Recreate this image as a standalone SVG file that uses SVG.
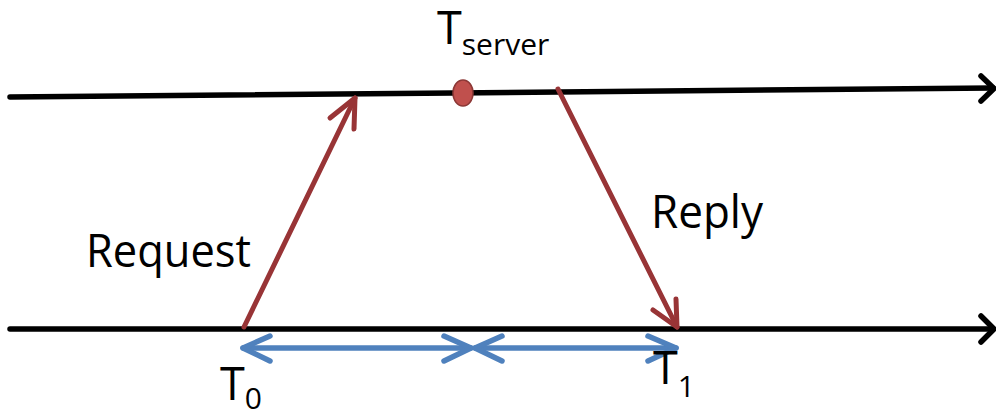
<svg xmlns="http://www.w3.org/2000/svg" width="996" height="414" viewBox="0 0 996 414">
<style>
.axis{stroke:#000;stroke-width:5.5;fill:none;stroke-linecap:round;stroke-linejoin:round}
.msg{stroke:#983436;stroke-width:5;fill:none;stroke-linecap:round;stroke-linejoin:round}
.span{stroke:#4F81BD;stroke-width:5.5;fill:none;stroke-linecap:round;stroke-linejoin:round}
text{font-family:"Open Sans","DejaVu Sans",sans-serif;fill:#000}
.big{font-size:45px}
.sub{font-size:30px}
</style>
<rect width="996" height="414" fill="#fff"/>
<g id="server-timeline">
<path class="axis" d="M10 97 L993 88"/>
<path class="axis" d="M981 76 L994 88.5 L981 101"/>
</g>
<g id="client-timeline">
<path class="axis" d="M10 329 L993 329"/>
<path class="axis" d="M981 316 L994 329 L981 342"/>
</g>
<g id="server-time">
<ellipse cx="463" cy="93" rx="10" ry="13" fill="#C0504D" stroke="#8C3836" stroke-width="1.5"/>
<text x="437" y="44" class="big">T<tspan class="sub" dy="11">server</tspan></text>
</g>
<g id="connectors">
<g id="request">
<path class="msg" d="M244 327 L355 98"/>
<path class="msg" d="M330 118 L355 98 L354 129"/>
</g>
<g id="reply">
<path class="msg" d="M558 89 L677 327"/>
<path class="msg" d="M653 310 L677 327 L676 299"/>
</g>
<g id="span-1">
<path class="span" d="M243 348 L471 348"/>
<path class="span" d="M270 336 L243 348 L270 361"/>
<path class="span" d="M444 336 L471 348 L444 361"/>
</g>
<g id="span-2">
<path class="span" d="M475 348 L676 348"/>
<path class="span" d="M502 336 L475 348 L502 361"/>
<path class="span" d="M648 336 L676 348 L648 361"/>
</g>
</g>
<g id="labels">
<text x="86" y="267" class="big" textLength="165" lengthAdjust="spacingAndGlyphs">Request</text>
<text x="651" y="228" class="big" textLength="112" lengthAdjust="spacingAndGlyphs">Reply</text>
<text x="220" y="400" class="big">T<tspan class="sub" dy="9">0</tspan></text>
<text x="653" y="384" class="big">T<tspan class="sub" dy="13">1</tspan></text>
</g>
</svg>
